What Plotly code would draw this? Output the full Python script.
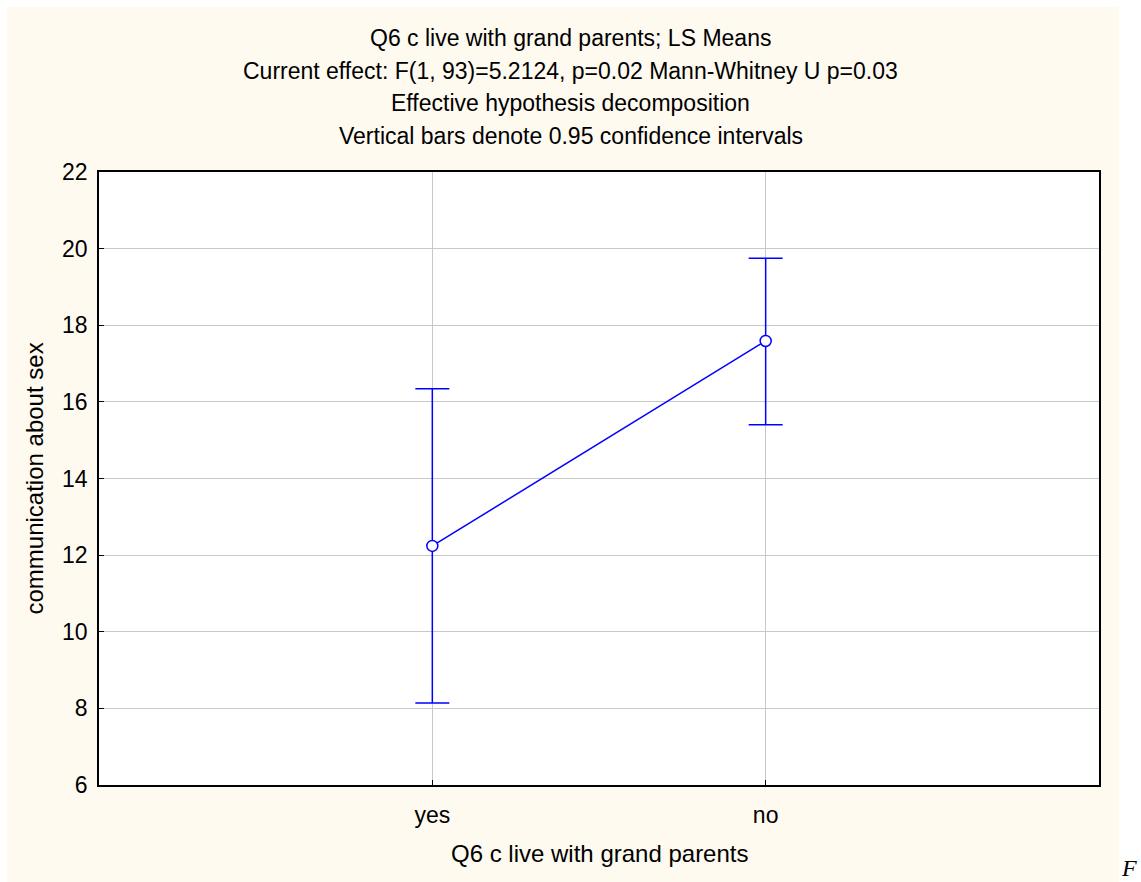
import plotly.graph_objects as go

# LS means with 0.95 confidence limits
categories = ["yes", "no"]
means = [12.24, 17.59]
ci_lower = [8.14, 15.40]
ci_upper = [16.34, 19.75]

y_ticks = [6, 8, 10, 12, 14, 16, 18, 20, 22]

title_lines = [
    "Q6 c live with grand parents; LS Means",
    "Current effect: F(1, 93)=5.2124, p=0.02 Mann-Whitney U p=0.03",
    "Effective hypothesis decomposition",
    "Vertical bars denote 0.95 confidence intervals",
]
x_title = "Q6 c live with grand parents"
y_title = "communication about sex"

W, H = 1141, 882
L, R, T, B = 99, 42, 172, 97
PW, PH = W - L - R, H - T - B
CREAM = "#FEFAF0"
FONT = "Liberation Sans, Arial, sans-serif"


def px(x):
    return (x - L) / PW


def py(y):
    return (H - B - y) / PH


err_plus = [u - m for u, m in zip(ci_upper, means)]
err_minus = [m - l for m, l in zip(means, ci_lower)]

fig = go.Figure(
    go.Scatter(
        x=categories,
        y=means,
        mode="lines+markers",
        line=dict(color="#0000FF", width=1.5),
        marker=dict(symbol="circle", size=11, color="white",
                    line=dict(color="#0000FF", width=1.5)),
        error_y=dict(type="data", symmetric=False, array=err_plus,
                     arrayminus=err_minus, color="#0000FF",
                     thickness=1.5, width=17),
        showlegend=False,
    )
)

axis_common = dict(
    showline=True, linecolor="black", linewidth=1.5, mirror=True,
    ticks="inside", ticklen=5, tickcolor="black", tickwidth=1.2,
    showgrid=True, gridcolor="#C8C8C8", gridwidth=1, zeroline=False,
    tickfont=dict(family=FONT, size=23, color="black"),
)

fig.update_xaxes(type="category", range=[-1, 2], ticklabelstandoff=9,
                 **axis_common)
fig.update_yaxes(range=[6, 22], tickvals=y_ticks, ticklabelstandoff=5,
                 **axis_common)

# white border around the cream panel
white_strips = [
    dict(x0=px(0), x1=px(7), y0=py(H), y1=py(0)),
    dict(x0=px(0), x1=px(W), y0=py(7), y1=py(0)),
    dict(x0=px(1119), x1=px(W), y0=py(H), y1=py(0)),
]
shapes = [
    dict(type="rect", xref="paper", yref="paper", layer="below",
         fillcolor="white", line=dict(width=0), **s)
    for s in white_strips
]

annotations = []
for i, line in enumerate(title_lines):
    annotations.append(dict(
        text=line, xref="paper", yref="paper", x=px(W / 2),
        y=py(38 + 32.7 * i), xanchor="center", yanchor="middle",
        showarrow=False, font=dict(family=FONT, size=23, color="black")))
annotations.append(dict(
    text=x_title, xref="paper", yref="paper", x=0.5, y=py(853),
    xanchor="center", yanchor="middle", showarrow=False,
    font=dict(family=FONT, size=24, color="black")))
annotations.append(dict(
    text=y_title, xref="paper", yref="paper", x=px(34), y=0.5,
    xanchor="center", yanchor="middle", textangle=-90, showarrow=False,
    font=dict(family=FONT, size=24, color="black")))
annotations.append(dict(
    text="<i>F</i>", xref="paper", yref="paper", x=px(1129), y=py(882),
    xanchor="center", yanchor="bottom", showarrow=False, borderpad=0,
    font=dict(family="Liberation Serif, Times New Roman, serif",
              size=24, color="black")))

fig.update_layout(
    width=W, height=H,
    margin=dict(l=L, r=R, t=T, b=B),
    paper_bgcolor=CREAM, plot_bgcolor="white",
    font=dict(family=FONT, size=23, color="black"),
    shapes=shapes,
    annotations=annotations,
)

fig.write_html("out.html")
